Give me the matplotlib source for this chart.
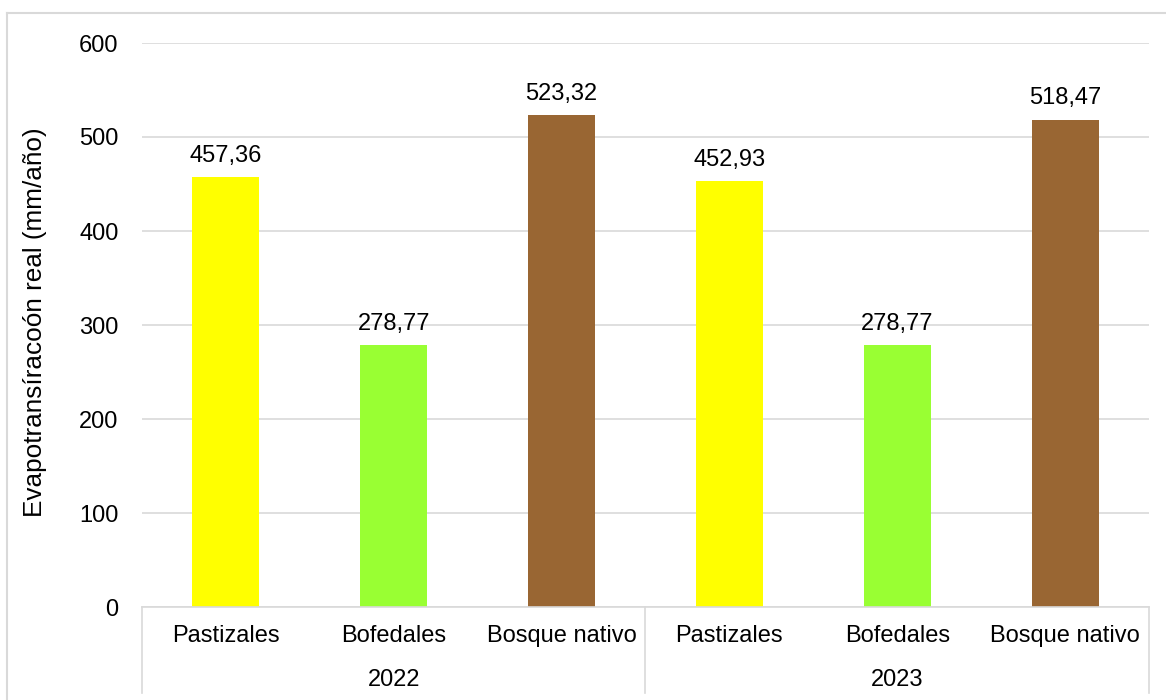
import matplotlib.pyplot as plt
from matplotlib.lines import Line2D
import numpy as np

plt.rcParams['font.family'] = ['Liberation Sans', 'DejaVu Sans']

categories = ['Pastizales', 'Bofedales', 'Bosque nativo',
              'Pastizales', 'Bofedales', 'Bosque nativo']
years = ['2022', '2023']
values = [457.36, 278.77, 523.32, 452.93, 278.77, 518.47]
colors = ['#FFFF00', '#99FF33', '#996633', '#FFFF00', '#99FF33', '#996633']
yticks = [0, 100, 200, 300, 400, 500, 600]

W, H = 1166, 700
fig = plt.figure(figsize=(W / 100, H / 100), dpi=100)
ax = fig.add_axes([142 / W, 1 - 607 / H, (1149 - 142) / W, (607 - 43) / H])

grid = '#D9D9D9'
fs = 17
x = np.arange(len(values))
ax.bar(x, values, width=0.4, color=colors, zorder=2)

for xi, v in zip(x, values):
    ax.annotate(f'{v:.2f}'.replace('.', ','), (xi, v), xytext=(0, 7.5),
                textcoords='offset points', ha='center', va='bottom', fontsize=fs)

ax.set_xlim(-0.5, len(values) - 0.5)
ax.set_ylim(0, 600)
ax.set_yticks(yticks)
ax.tick_params(axis='y', length=0, pad=17, labelsize=fs)
ax.set_xticks([])
ax.yaxis.grid(True, color=grid, linewidth=1.2, zorder=0)
ax.set_axisbelow(True)
for s in ['top', 'right', 'left']:
    ax.spines[s].set_visible(False)
ax.spines['bottom'].set_color(grid)
ax.spines['bottom'].set_linewidth(1.2)

# two-level category axis
axh = 607 - 43
for xi, c in zip(x, categories):
    ax.text(xi, -(636 - 607) / axh, c, ha='center', va='center',
            fontsize=fs, transform=ax.get_xaxis_transform())
for i, yr in enumerate(years):
    ax.text(1 + 3 * i, -(680 - 607) / axh, yr, ha='center', va='center',
            fontsize=fs, transform=ax.get_xaxis_transform())
for xs in [-0.5, 2.5, 5.5]:
    ax.add_line(Line2D([xs, xs], [0, -(693 - 607) / axh], color=grid,
                       linewidth=1.2, transform=ax.get_xaxis_transform(),
                       clip_on=False))

fig.text(35 / W, 1 - 322 / H, 'Evapotransíracoón real (mm/año)', rotation=90,
         ha='center', va='center', fontsize=18.8)

# chart area border
fig.add_artist(Line2D([7 / W, 1], [1 - 13 / H, 1 - 13 / H], color=grid,
                      linewidth=1.5, transform=fig.transFigure))
fig.add_artist(Line2D([7 / W, 7 / W], [0, 1 - 13 / H], color=grid,
                      linewidth=1.5, transform=fig.transFigure))

fig.savefig('out.png', dpi=100)
